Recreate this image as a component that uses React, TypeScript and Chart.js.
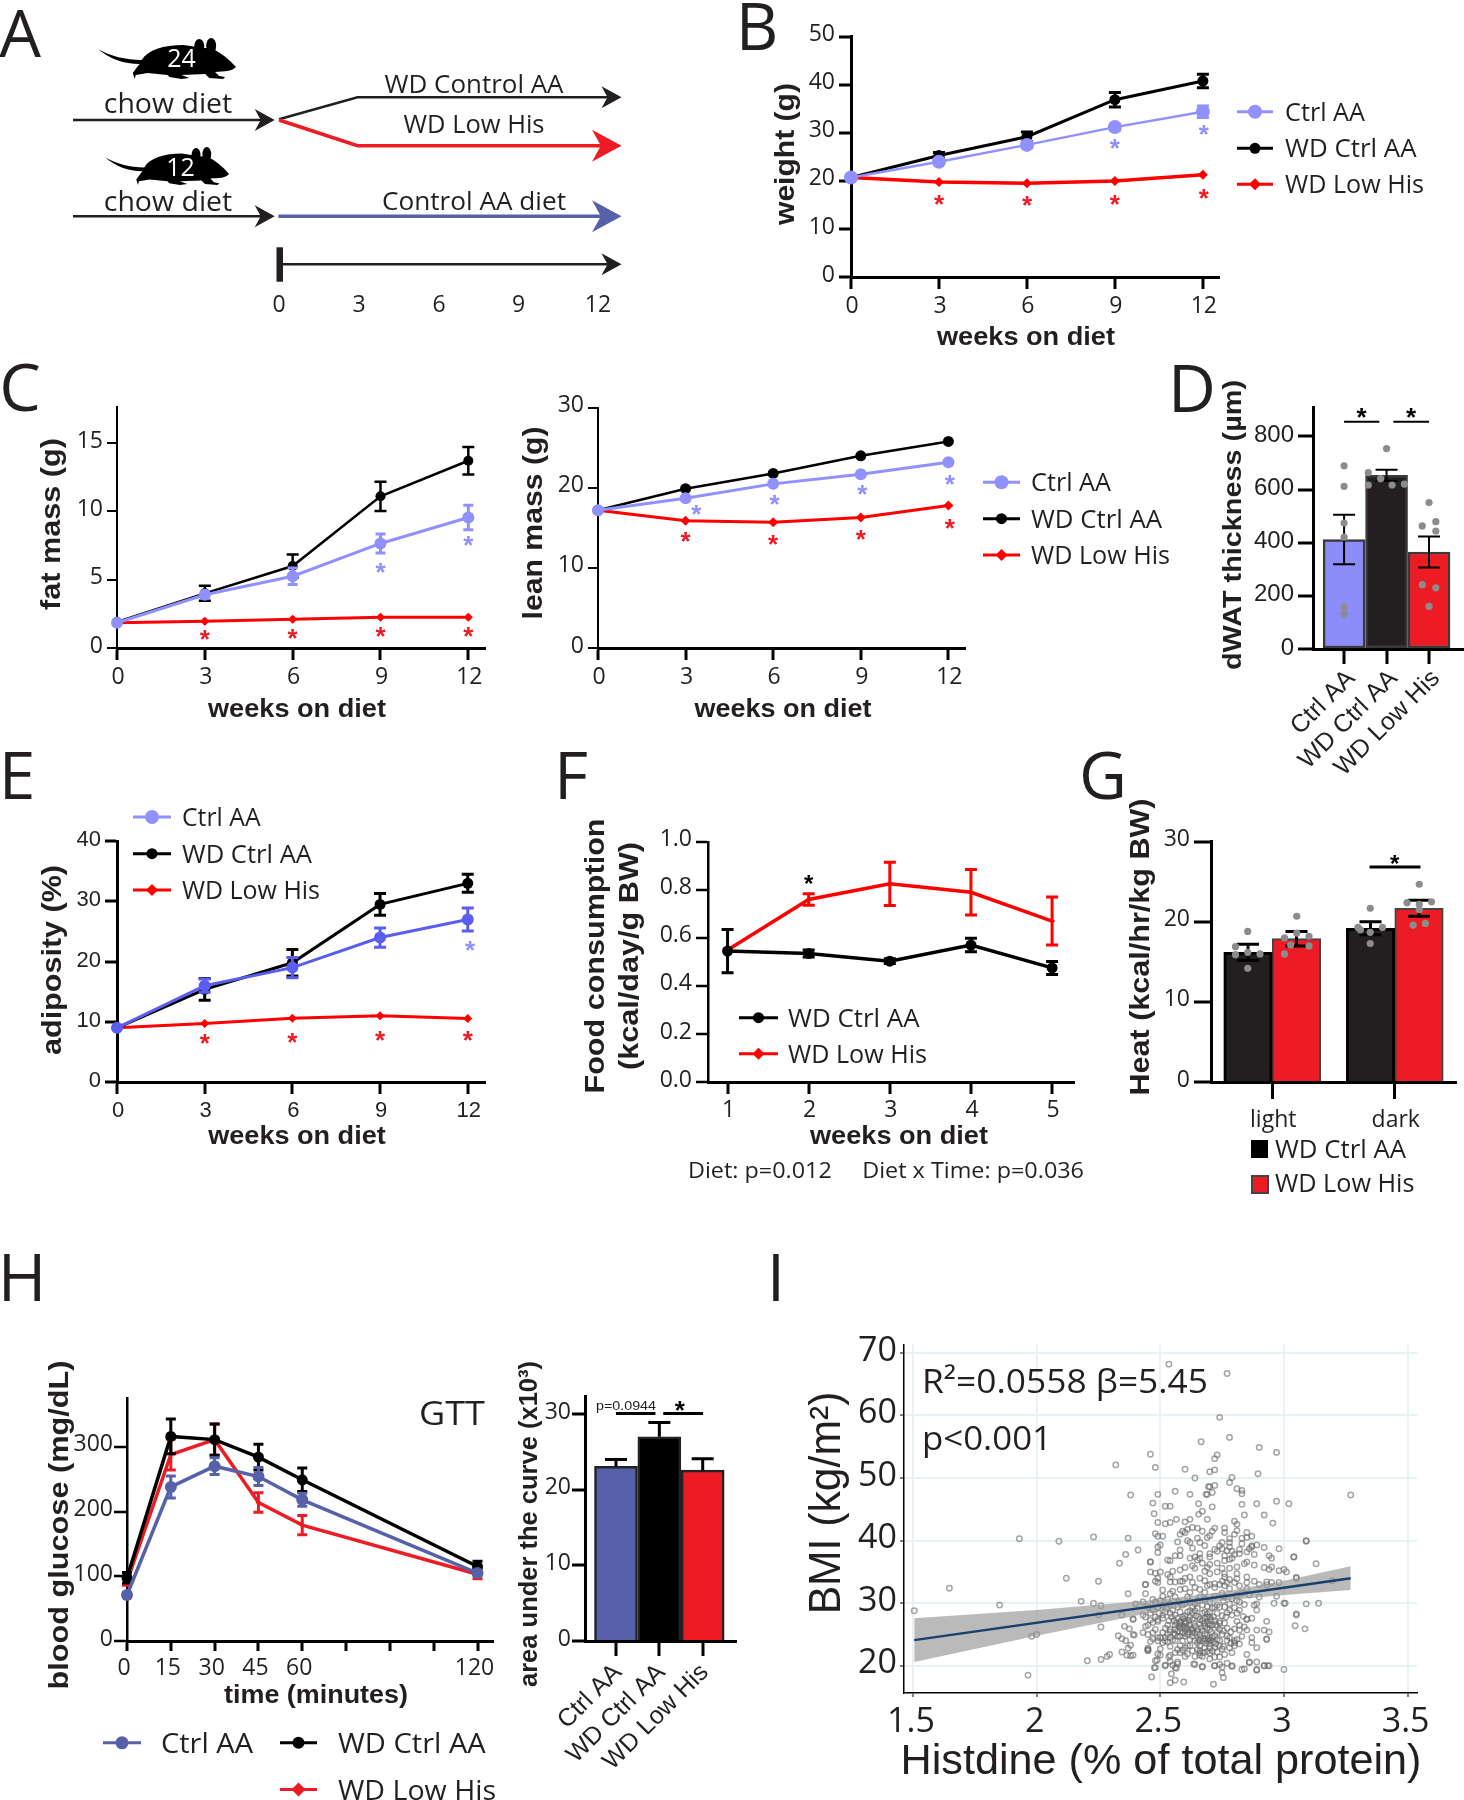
import React, { useEffect, useRef } from "react";
import { Chart, registerables } from "chart.js";

Chart.register(...registerables);

const INK = "#231f20";
const RED = "#ff0000";
const BARRED = "#ed1c24";
const LILAC = "#9090ff";
const BLUE = "#5a5ef0";
const NAVY = "#5661a9";
const SANS = "Open Sans";
const ARIAL = "Liberation Sans";

const weeks = [0, 3, 6, 9, 12];
const weightCtrl = [20.7, 24, 27.5, 31.2, 34.4];
const weightWd = [20.7, 25.3, 29.2, 36.9, 40.8];
const weightLow = [20.7, 19.8, 19.5, 20, 21.3];
const weightCtrlErr = [0, 0.4, 0.6, 0.6, 1.2];
const weightWdErr = [0, 0.6, 1, 1.5, 1.4];
const weightLowErr = [0, 0.2, 0.2, 0.2, 0.2];

const fatCtrl = [1.85, 3.9, 5.25, 7.65, 9.55];
const fatWd = [1.9, 4, 6, 11.1, 13.7];
const fatLow = [1.85, 1.95, 2.1, 2.25, 2.25];
const fatCtrlErr = [0, 0.2, 0.6, 0.7, 0.9];
const fatWdErr = [0, 0.55, 0.85, 1.07, 1];
const fatLowErr = [0, 0.1, 0.1, 0.1, 0.1];

const leanCtrl = [17.2, 18.7, 20.5, 21.7, 23.2];
const leanWd = [17.2, 19.9, 21.8, 24, 25.8];
const leanLow = [17.2, 15.9, 15.7, 16.3, 17.8];

const dwatLabels = ["Ctrl AA", "WD Ctrl AA", "WD Low His"];
const dwatMeans = [412, 653, 365];
const dwatErr = [93, 21, 58];
const dwatDots = [
  [0, 689], [0, 612], [0, 474], [0, 421], [0, 159], [0, 131],
  [1, 754], [0.57, 664], [0.86, 641], [0.57, 617], [1.13, 617], [1.42, 620],
  [2, 551], [1.84, 463], [2.16, 479], [2.16, 444], [1.84, 242], [2.16, 230], [2, 160],
];

const adipCtrl = [9, 16, 19, 24, 27];
const adipWd = [9, 15.4, 19.8, 29.5, 33];
const adipLow = [9, 9.7, 10.6, 11, 10.55];
const adipCtrlErr = [0, 1.1, 1.7, 1.6, 1.9];
const adipWdErr = [0, 1.8, 2.2, 1.8, 1.5];

const foodWeeks = [1, 2, 3, 4, 5];
const foodWd = [0.545, 0.535, 0.503, 0.57, 0.475];
const foodLow = [0.55, 0.76, 0.825, 0.79, 0.67];
const foodWdErr = [0.09, 0.015, 0.01, 0.028, 0.027];
const foodLowErr = [0, 0.024, 0.09, 0.095, 0.1];

const heatPhases = ["light", "dark"];
const heatWd = [16.2, 19.2];
const heatLow = [17.9, 21.7];
const heatWdErr = [1, 0.8];
const heatLowErr = [0.9, 1];
const heatDots = [
  [-0.2, 18.8], [-0.3, 16.9], [-0.1, 16], [-0.3, 15.9], [-0.2, 16.2], [-0.2, 14.2],
  [0.2, 20.7], [0.1, 18], [0.3, 18.2], [0.2, 18.6], [0.1, 16], [0.3, 17], [0.15, 17.1],
  [0.8, 21.7], [0.7, 19.3], [0.9, 19.3], [0.8, 18.7], [0.8, 17.3], [0.72, 19],
  [1.2, 24.7], [1.1, 22.4], [1.3, 22.5], [1.2, 21.5], [1.15, 19.6], [1.25, 19.8], [1.2, 22.2],
];

const gttMinutes = [0, 15, 30, 45, 60, 120];
const gttLabelled = [0, 15, 30, 45, 60, 120];
const gttCtrl = [71, 238, 270, 254, 218, 105];
const gttWd = [97.7, 316, 311, 284, 249, 115];
const gttLow = [92, 288, 311, 214, 179, 103];
const gttCtrlErr = [4, 17, 13, 14, 10, 4];
const gttWdErr = [8, 27, 24, 20, 18, 8];
const gttLowErr = [6, 24, 24, 15, 15, 7];

const aucLabels = ["Ctrl AA", "WD Ctrl AA", "WD Low His"];
const aucMeans = [23.1, 27, 22.6];
const aucErrUp = [0.9, 1.9, 1.5];

const fitX = [1.505, 3.27];
const fitY = [24.1, 34];
const bandX = [1.505, 2, 2.5, 2.75, 3, 3.27];
const bandUpper = [27.6, 28.9, 30.6, 31.8, 33.6, 35.9];
const bandLower = [20.6, 24.8, 28.8, 30.4, 31.3, 32.1];
const bmiPoints = [
[2.54,42.9],[2.52,42.7],[2.49,42.9],[2.6,43],[2.81,42.6],
[2.63,42.1],[2.61,41.8],[2.59,41.5],[2.58,41],[2.6,41.3],[2.65,42],[2.67,41.5],[2.72,42],[2.71,41.5],[2.76,42],[2.76,41.3],[2.81,41.6],[2.8,41],[2.85,41.3],[2.87,40.7],[2.85,40.5],[2.83,40.4],
[2.48,41.1],[2.49,40.7],[2.51,40.7],[2.61,40],[2.62,39.7],[2.65,40.4],[2.66,39.7],[2.69,40.5],[2.7,40.8],[2.57,39.8],[2.78,40.3],[2.78,39.7],[2.75,39.7],[2.74,39.2],[2.72,38.6],[2.75,38.7],[2.78,39],[2.87,39.2],[2.89,39.3],[2.87,39],[2.86,38.7],[2.92,38.9],[2.98,38.7],[3.09,39.9],
[2.41,38.5],[2.49,39],[2.5,39.3],[2.49,38.1],[2.58,38.5],[2.56,37.6],[2.58,37.6],[2.66,37.9],[2.64,37.4],[2.7,37.9],[2.73,38.3],[2.76,37.6],[2.79,38.3],[2.82,38.6],[2.82,37.9],[2.8,37.8],[2.88,37.8],[2.85,38.2],[2.94,37.6],[2.95,37.2],[3.04,37.4],
[2.46,36.6],[2.53,36.9],[2.54,36.8],[2.62,37.2],[2.65,36.9],[2.67,36.4],[2.66,37.2],[2.7,36.2],[2.73,36.4],[2.76,36.8],[2.79,37.2],[2.85,36.6],[2.84,36.3],[2.88,36.1],[2.81,35.8],[2.78,35.6],[2.92,35.7],[2.95,35.8],[2.94,35.4],[2.98,35.2],[3,35.4],[3.01,35],[3.13,36.3],
[2.46,35],[2.48,34.8],[2.5,35],[2.55,35.1],[2.53,34.6],[2.58,35.3],[2.6,35.7],[2.64,35.6],[2.68,35.1],[2.7,34.7],[2.73,35],[2.76,34.7],[2.76,34.2],[2.81,34.7],[2.85,34.2],[2.49,34],[2.48,33.5],[2.54,34.2],[2.62,34.2],[2.59,33.5],[2.66,34],[2.78,33.8],[2.81,33.9],[3.05,34],
[2.44,33],[2.49,33.3],[2.54,33.4],[2.56,33.4],[2.58,33.5],[2.63,33.3],[2.7,33],[2.72,33.1],[2.74,33],[2.77,33.3],[2.8,33.3],[2.85,33.3],[2.88,33.5],[2.93,33.4],[2.95,33.3],[2.98,33.3],[2.93,32.9],
[2.51,32.1],[2.55,31.9],[2.6,32.3],[2.58,32.2],[2.64,32.5],[2.66,32.2],[2.69,32.8],[2.72,32.5],[2.76,32.8],[2.78,32.3],[2.82,32.8],[2.85,32.3],[2.9,33],
[2.97,31.1],[2.89,29.9],[2.88,29.7],[2.89,28.9],[2.85,27.4],[2.85,27.5],[2.87,27.6],[2.93,27.1],[2.81,27.1],[2.82,26.5],[2.85,25.7],[2.89,25.7],[2.92,25.7],[2.94,25.4],[2.87,24.5],[2.87,23.7],[2.93,24.2],[2.93,24.3],[2.89,22.9],[2.85,21.8],[2.86,20.6],[2.89,20.6],[2.92,20],[2.94,20],[2.84,19.5],[2.89,19.4],
[2.82,30.2],[2.78,29.9],[2.74,29.4],[2.78,28.9],[2.76,29.4],[2.82,28.9],[2.81,30.4],[2.74,26.8],[2.74,27.1],[2.77,26],[2.7,28.6],[2.67,28.4],[2.69,27.8],[2.66,27.4],[2.71,26.5],[2.68,26.3],[2.7,25.8],[2.69,26],[2.67,25.6],[2.68,25.1],[2.73,25.3],[2.75,25],[2.71,24.5],[2.73,24.2],[2.69,24],[2.66,24],[2.66,23.2],[2.68,22.9],[2.7,23.5],[2.74,23.2],[2.75,22.7],[2.77,24],[2.8,23.7],[2.82,23.5],[2.78,22.9],[2.79,22.1],[2.66,21.7],[2.67,21.5],[2.64,21.5],[2.7,21.1],[2.74,21.4],[2.72,21.4],[2.77,20.4],[2.79,20],[2.74,20.2],[2.72,20],[2.67,19.9],[2.64,20.2],[2.57,20.3],[2.56,19.7],[2.52,20],[2.54,20.7],[2.48,20.8],[2.48,19.7],[2.49,21.9],[2.54,21.7],[2.56,22.1],[2.58,22.1],[2.6,22.9],[2.61,23.2],[2.58,23.2],[2.62,23.2],[2.56,24],[2.59,24],[2.62,24.2],[2.6,24.7],[2.57,24.7],[2.54,24.5],[2.52,24],[2.49,24],[2.5,22.7],[2.45,22.5],[2.45,22.6],[2.45,22.8],[2.39,25],[2.39,21.7],[2.43,25.3],[2.45,25],[2.47,25.3],[2.49,24.5],[2.51,25.3],[2.54,25.8],[2.56,25.8],[2.58,26.5],[2.6,26.3],[2.62,26.5],[2.63,27.4],[2.6,27.1],[2.58,26.8],[2.59,27.8],[2.63,28.4],[2.61,28.6],[2.58,28.6],[2.55,28.9],[2.52,28.6],[2.51,27.6],[2.49,27.1],[2.53,26.5],[2.45,26.5],[2.44,26.3],[2.48,25.8],[2.43,28.1],[2.44,27.8],[2.39,27.4],[2.46,28.4],[2.49,27.4],[2.56,28.1],[2.65,29.2],[2.64,29.9],[2.67,29.7],[2.7,30.2],[2.72,29.4],[2.6,29.9],[2.57,29.4],[2.54,29.9],[2.51,29.7],[2.48,30.2],[2.45,29.4],[2.43,30.2],[2.4,29.9],[2.51,31.1],[2.56,31],[2.61,31],[2.66,31],[2.72,31.1],[2.76,31],[2.81,31.3],[2.86,31.3],[2.9,31],[2.44,31.5],[2.47,30.6],
[2.58,26],[2.6,25.8],[2.59,25.3],[2.69,27.1],[2.68,26.8],[2.7,26.5],[2.58,27.1],[2.6,26.8],[2.7,22.9],[2.66,22.1],[2.66,22.4],[2.8,23.2],[2.45,22.4],[2.52,24.5],[2.51,23.7],[2.56,25],[2.56,26.5],[2.62,27.8],[2.64,26.3],[2.65,25.8],[2.66,25],[2.73,26.3],[2.76,26.8],[2.78,24.5],[2.8,24],[2.74,24],[2.72,22.9],[2.68,28.6],[2.7,27.8],[2.73,29.7],[2.61,25],[2.63,25.3],[2.58,24.7],[2.5,24.5],
[2.59,26.2],[2.605,26.9],[2.615,27.3],[2.595,27.5],[2.57,27.6],[2.575,26.3],[2.61,26],[2.625,25.9],[2.635,26.8],[2.6,28],[2.62,28.8],[2.64,28.8],[2.645,28],[2.655,27.8],[2.66,26.7],[2.665,26.1],[2.67,27.2],[2.68,27.6],[2.69,28.3],[2.695,26.7],[2.705,27.4],[2.715,27.8],[2.72,27.2],[2.725,26.6],[2.705,25.4],[2.69,24.9],[2.68,24.3],[2.695,24.4],[2.705,24.1],[2.715,23.8],[2.72,24.8],[2.7,24],[2.685,23.6],[2.675,24],[2.665,24.5],[2.655,24.2],[2.65,23.7],[2.64,24],[2.63,24.7],[2.64,25.2],[2.65,25.4],[2.63,25.7],[2.615,25.4],[2.6,25.2],[2.57,25.5],[2.555,25.2],[2.54,25.4],[2.53,25],[2.52,26],[2.535,27.2],[2.545,27.8],[2.555,27.2],[2.565,26.9],[2.54,28.4],[2.525,29.1],[2.51,28.1],[2.495,28.4],[2.48,27.8],[2.47,26.9],[2.46,27.3],[2.47,28.9],[2.49,29.3],[2.5,30.4],[2.53,30.6],[2.575,30.2],[2.59,29.7],[2.62,30.2],[2.63,29.4],[2.65,30.4],[2.68,30.6],[2.69,29.5],[2.71,29.2],[2.73,28.4],[2.75,28],[2.765,27.8],[2.77,28.5],[2.79,28.1],[2.8,29.3],[2.81,28.4],[2.755,30.4],[2.79,30.7],[2.83,31.6],[2.75,31.6],[2.68,31.7],[2.62,31.7],[2.54,31.5],[2.835,27.9],[2.8,25.9],[2.785,25.4],[2.77,24.8],[2.755,25.6],[2.74,25.8],[2.725,23.5],[2.71,22.4],[2.7,22],[2.69,22.3],[2.675,22.1],[2.65,22.6],[2.63,22.4],[2.61,21.9],[2.6,21.5],[2.59,22.5],[2.57,22.6],[2.54,23.1],[2.53,23.8],[2.55,24.1],[2.47,24.3],[2.46,23.9],[2.73,22.2],[2.76,21.8],[2.755,23.1],[2.785,23.6],[2.81,24.2],[2.83,24.7],[2.82,25.7],[2.84,26.2],[2.84,29.8],[2.75,33.5],[2.68,33.6],[2.6,34],[2.69,35.7],[2.75,35.6],[2.63,36],[2.7,37.4],[2.78,37],[2.77,38.4],[2.83,39.5],[2.63,38.8],[2.68,39.2],
[2.476,19.7],[2.52,20.1],[2.55,20.1],[2.565,19.6],[2.635,20.3],[2.67,19.8],[2.72,20],[2.75,19.8],[2.79,19.9],[2.83,19.4],[2.86,20.5],[2.89,19.3],[2.92,20],[2.935,20],[2.545,18.7],[2.75,18.9],[2.755,18.1],[2.54,17.3],[2.56,17.7],[2.595,17.4],[2.715,17.05],[2.487,20.9],[2.5,21.7],[2.535,21.4],[2.57,20.6],
[2.74,59.7],[2.78,56.5],[2.665,55.8],[2.9,54.9],[2.97,54.1],[2.46,53.8],[2.73,53.7],[2.72,53.1],[2.32,52.1],[2.48,51.7],[2.6,51.4],[2.72,51.3],[2.7,51],[2.895,50.7],[2.64,50],[2.79,50.1],[2.78,49.3],[2.695,48.6],[2.7,48.6],[2.72,48.8],[2.81,48.3],[2.83,48],[2.83,47.5],[2.685,47.4],[2.69,47.4],[2.71,47.7],[2.56,47.9],[2.49,47.4],[2.62,47.4],[2.38,47.3],[3.27,47.3],[2.97,46.3],[2.47,46],[2.655,45.9],[2.83,45.8],[2.89,45.9],[3.02,45.9],[2.52,45.5],[2.54,45.5],[2.71,45.4],[2.475,44.3],[2.67,44.7],[2.655,44.2],[2.84,44.1],[2.92,44.1],[2.565,43.4],[2.62,43.4],[2.69,43.4],[2.8,43.1],[2.955,42.8],
[1.93,40.3],[2.09,39.9],[2.23,40.6],[2.37,40.4],[3.09,40],[2.36,37.8],[3.04,37.4],[2.335,36.4],[2.46,36.6],[2.12,34],[2.25,33.5],[2.44,33],[2.37,31.5],[3.05,34.1],[3.195,33.6],[2.18,30.3],[2.23,30],[2.26,29.6],[1.85,29.7],[3.09,29.9],[3.14,30],[3,30],[3.005,30],[2.96,30],[2.25,28.1],[2.345,28.1],[2.39,27.5],[3.05,28.3],[3.05,28.1],[2.26,26.2],[2.355,26.3],[2.375,25.9],[2.33,24.8],[2.345,24.3],[2.395,24.9],[2.36,24],[2.38,23.3],[2.37,22.8],[2.345,22.2],[2.365,21.7],[2.38,21.6],[3.045,26.4],[3.085,25.9],[1.98,24.7],[2,25],[2.205,20.8],[2.26,21],[2.285,21.5],[2.295,21.8],[1.965,18.5],[3,19.4],[2.465,18.2],[1.505,28.8],[1.647,32.4],[2.535,68.2],[2.77,66.7],
];

const MARGIN = { L: 80, R: 20, T: 14, B: 130 };

const scale = (axis: string, o: any) => ({
  type: "linear",
  min: o.min,
  max: o.max,
  offset: false,
  afterFit: (s: any) => {
    if (axis === "x") s.height = MARGIN.B;
    else s.width = MARGIN.L;
  },
  border: { color: o.color ?? "#000", width: o.bw ?? 3 },
  grid: {
    drawOnChartArea: !!o.grid,
    color: o.grid,
    lineWidth: 2,
    offset: false,
    tickLength: o.tick ?? 12,
    tickWidth: o.tw ?? o.bw ?? 3,
    tickColor: o.color ?? "#000",
  },
  ticks: {
    stepSize: o.step,
    includeBounds: false,
    autoSkip: false,
    maxRotation: o.rot ?? 0,
    minRotation: o.rot ?? 0,
    color: INK,
    padding: o.pad ?? 4,
    labelOffset: o.lo ?? (axis === "y" ? (o.fam === ARIAL ? -1 : -2) : 1),
    font: { family: o.fam ?? SANS, size: o.size ?? 23 },
    callback: o.cb ?? ((v: number) => String(v)),
  },
});

const series = (xs: number[], ys: number[], color: string, o: any = {}) => ({
  type: "line",
  data: xs.map((x, i) => ({ x, y: ys[i] })),
  borderColor: color,
  backgroundColor: color,
  pointBackgroundColor: color,
  borderWidth: o.w ?? 3,
  pointRadius: o.r ?? 5,
  pointStyle: o.shape ?? "circle",
  pointBorderWidth: 0,
  tension: 0,
  clip: false,
  err: o.err,
  errCap: o.cap ?? 7,
  errWidth: o.ew ?? 3,
  errColor: o.errColor ?? color,
});

const dotSet = (pairs: number[][], xAxisID = "x") => ({
  type: "scatter",
  xAxisID,
  data: pairs.map(([x, y]) => ({ x, y })),
  pointRadius: 3.6,
  pointBackgroundColor: "#8c8c8c",
  pointBorderWidth: 0,
  showLine: false,
  clip: false,
});

const drawErr = (ch: any, index: number) => {
  const d = ch.data.datasets[index];
  if (!d.err) return;
  const meta = ch.getDatasetMeta(index);
  const y = ch.scales.y;
  const c = ch.ctx;
  c.save();
  c.strokeStyle = d.errColor ?? "#000";
  c.lineWidth = d.errWidth ?? 2;
  d.err.forEach((e: number, i: number) => {
    if (!e) return;
    const px = meta.data[i].x;
    const v = d.data[i].y ?? d.data[i];
    const hi = y.getPixelForValue(v + e);
    const lo = y.getPixelForValue(d.upOnly ? v : v - e);
    c.beginPath();
    c.moveTo(px, hi);
    c.lineTo(px, lo);
    c.moveTo(px - d.errCap, hi);
    c.lineTo(px + d.errCap, hi);
    if (!d.upOnly) {
      c.moveTo(px - d.errCap, lo);
      c.lineTo(px + d.errCap, lo);
    }
    c.stroke();
  });
  c.restore();
};

const star = (c: any, px: number, py: number, color: string, size = 26) => {
  c.font = `bold ${size}px "${ARIAL}"`;
  c.fillStyle = color;
  c.textAlign = "center";
  c.textBaseline = "alphabetic";
  c.fillText("*", px, py + size * 0.58);
};

const marks = (o: any = {}) => ({
  id: "marks",
  beforeDatasetDraw(ch: any, a: any) {
    if (!ch.data.datasets[a.index].barErr) drawErr(ch, a.index);
  },
  afterDatasetDraw(ch: any, a: any) {
    if (ch.data.datasets[a.index].barErr) drawErr(ch, a.index);
  },
  afterDatasetsDraw(ch: any) {
    const c = ch.ctx;
    const xs = ch.scales[o.markAxis ?? "x"];
    const ys = ch.scales.y;
    c.save();
    (o.stars ?? []).forEach(([x, y, color, size]: any) =>
      star(c, xs.getPixelForValue(x), ys.getPixelForValue(y), color, size)
    );
    (o.brackets ?? []).forEach(([x0, x1, y]: number[]) => {
      c.strokeStyle = "#000";
      c.lineWidth = o.bracketW ?? 2;
      c.beginPath();
      c.moveTo(xs.getPixelForValue(x0), ys.getPixelForValue(y));
      c.lineTo(xs.getPixelForValue(x1), ys.getPixelForValue(y));
      c.stroke();
    });
    c.restore();
  },
});

function Panel({ plot, type = "line", data, scales, mk }: any) {
  const ref = useRef<HTMLCanvasElement>(null);
  useEffect(() => {
    const chart = new Chart(ref.current as any, {
      type,
      data,
      options: {
        responsive: false,
        animation: false,
        events: [],
        layout: { padding: { top: MARGIN.T, right: MARGIN.R, left: 0, bottom: 0 } },
        plugins: { legend: { display: false }, tooltip: { enabled: false }, title: { display: false } },
        scales,
      } as any,
      plugins: [marks(mk)],
    } as any);
    return () => chart.destroy();
  }, []);
  const [l, r, t, b] = plot;
  return (
    <canvas
      ref={ref}
      width={r - l + MARGIN.L + MARGIN.R}
      height={b - t + MARGIN.T + MARGIN.B}
      style={{ position: "absolute", left: l - MARGIN.L, top: t - MARGIN.T, width: r - l + MARGIN.L + MARGIN.R, height: b - t + MARGIN.T + MARGIN.B }}
    />
  );
}

const meter = document.createElement("canvas").getContext("2d") as CanvasRenderingContext2D;

function T({ x, y, s, t, f = SANS, b = false, len, rot = 0, c = INK, left = false }: any) {
  meter.font = `${b ? "bold " : ""}${s}px "${f}"`;
  const k = len ? len / meter.measureText(t).width : 1;
  return (
    <div
      style={{
        position: "absolute",
        left: x,
        top: f === SANS ? y - 1 : y,
        fontFamily: `"${f}"`,
        fontSize: s,
        fontWeight: b ? 700 : 400,
        lineHeight: 1,
        whiteSpace: "pre",
        color: c,
        transformOrigin: left ? "0 50%" : "50% 50%",
        transform: `translate(${left ? "0" : "-50%"},-50%) rotate(${rot}deg) scaleX(${k})`,
      }}
    >
      {t}
    </div>
  );
}

const Arrow = ({ pts, tip, base, y, h, color, w = 2.5 }: any) => (
  <g>
    <polyline points={pts} fill="none" stroke={color} strokeWidth={w} />
    <path d={`M${tip} ${y}L${base} ${y - h}L${base + (tip - base) * 0.3} ${y}L${base} ${y + h}Z`} fill={color} />
  </g>
);

const Mouse = ({ x, y, w, h }: any) => (
  <g transform={`translate(${x} ${y}) scale(${w / 140} ${h / 40})`} fill="#000">
    <path d="M0 10C12 17 28 21 44 21C50 11 66 6 86 6L100 8L116 10C124 14 132 20 139 28C134 33 128 32 118 33L122 37L128 38L126 40L112 39L108 35L84 36L92 39L84 40L72 38L70 36L50 34L38 36L37 40L35 34C38 30 40 27 42 25C26 25 12 20 0 10Z" />
    <ellipse cx="102" cy="7" rx="5" ry="7" />
    <ellipse cx="114" cy="7" rx="5" ry="8" />
  </g>
);

const Swatch = ({ x0, x1, y, color, shape, r = 5, w = 3 }: any) => {
  const cx = (x0 + x1) / 2;
  return (
    <g>
      <line x1={x0} x2={x1} y1={y} y2={y} stroke={color} strokeWidth={w} />
      {shape === "d" ? (
        <path d={`M${cx - r} ${y}L${cx} ${y - r}L${cx + r} ${y}L${cx} ${y + r}Z`} fill={color} />
      ) : (
        <circle cx={cx} cy={y} r={r} fill={color} />
      )}
    </g>
  );
};

const WEEK_TITLE = "weeks on diet";

export default function App() {
  const wk = { step: 3, tick: 12, pad: 4 };
  return (
    <div style={{ position: "absolute", left: 0, top: 0, width: 1464, height: 1800, background: "#fff", overflow: "hidden" }}>
      {/* B */}
      <Panel
        plot={[851, 1219, 33, 277]}
        data={{
          datasets: [
            series(weeks, weightCtrl, LILAC, { w: 2.5, r: 7, err: weightCtrlErr, cap: 6 }),
            series(weeks, weightWd, "#000", { w: 3, r: 5.5, err: weightWdErr, cap: 6 }),
            series(weeks, weightLow, RED, { w: 3.5, r: 5, shape: "rectRot", err: weightLowErr, cap: 2 }),
          ],
        }}
        scales={{ x: scale("x", { min: 0, max: 12.55, ...wk }), y: scale("y", { min: 0, max: 50, step: 10 }) }}
        mk={{
          stars: [
            [3, 16.4, BARRED], [6, 16.3, BARRED], [9, 16.4, BARRED], [12.03, 17.8, BARRED],
            [9, 28.2, LILAC], [12.03, 31, LILAC],
          ],
        }}
      />
      {/* C left */}
      <Panel
        plot={[117, 485, 403, 648]}
        data={{
          datasets: [
            series(weeks, fatCtrl, LILAC, { w: 3, r: 6, err: fatCtrlErr, cap: 5 }),
            series(weeks, fatWd, "#000", { w: 2.5, r: 5, err: fatWdErr, cap: 6, ew: 2.5 }),
            series(weeks, fatLow, RED, { w: 3, r: 4.5, shape: "rectRot", err: fatLowErr, cap: 2 }),
          ],
        }}
        scales={{
          x: scale("x", { min: 0, max: 12.57, ...wk }),
          y: scale("y", { min: 0, max: 17.65, step: 5, bw: 2, tick: 10 }),
        }}
        mk={{
          stars: [
            [3, 1.1, BARRED], [6, 1.15, BARRED], [9, 1.3, BARRED], [12, 1.3, BARRED],
            [9, 6, LILAC], [12, 7.95, LILAC],
          ],
        }}
      />
      {/* C right */}
      <Panel
        plot={[598, 965, 404, 648]}
        data={{
          datasets: [
            series(weeks, leanCtrl, LILAC, { w: 3, r: 6 }),
            series(weeks, leanWd, "#000", { w: 2.5, r: 5.5 }),
            series(weeks, leanLow, RED, { w: 3, r: 5, shape: "rectRot" }),
          ],
        }}
        scales={{
          x: scale("x", { min: 0, max: 12.57, ...wk }),
          y: scale("y", { min: 0, max: 30, step: 10, bw: 2, tick: 10 }),
        }}
        mk={{
          stars: [
            [3, 14.15, BARRED], [6, 13.7, BARRED], [9, 14.4, BARRED], [12.05, 15.8, BARRED],
            [3.37, 17.55, LILAC], [6.05, 18.7, LILAC], [9.05, 19.95, LILAC], [12.05, 21.3, LILAC],
          ],
        }}
      />
      {/* D */}
      <Panel
        plot={[1313, 1463, 403, 649]}
        type="bar"
        data={{
          datasets: [
            dotSet(dwatDots),
            {
              type: "bar",
              data: dwatMeans.map((y, x) => ({ x, y })),
              backgroundColor: ["#8c8cfa", INK, BARRED],
              borderColor: "#3a3a3a",
              borderWidth: 2.5,
              barThickness: 42,
              borderSkipped: false,
              clip: false,
              barErr: true,
              err: dwatErr,
              errCap: 11,
              errWidth: 2,
              errColor: "#000",
            },
          ],
        }}
        scales={{
          x: scale("x", { min: -0.732, max: 2.8, step: 1, tick: 15, rot: 45, fam: ARIAL, size: 25, pad: 0, lo: 7, cb: (v: number) => dwatLabels[v] }),
          y: scale("y", { min: 0, max: 909, step: 200, tick: 15, fam: ARIAL, size: 24, pad: 4 }),
        }}
        mk={{
          stars: [[0.41, 896, "#000"], [1.575, 896, "#000"]],
          brackets: [[0, 0.83, 855], [1.16, 2, 855]],
        }}
      />
      {/* E */}
      <Panel
        plot={[117, 485, 838, 1082]}
        data={{
          datasets: [
            series(weeks, adipCtrl, BLUE, { w: 3, r: 6, err: adipCtrlErr, cap: 6 }),
            series(weeks, adipWd, "#000", { w: 3, r: 5.5, err: adipWdErr, cap: 6 }),
            series(weeks, adipLow, RED, { w: 3, r: 4.5, shape: "rectRot" }),
          ],
        }}
        scales={{
          x: scale("x", { min: 0, max: 12.59, step: 3, tick: 12, fam: ARIAL, size: 22, pad: 4 }),
          y: scale("y", { min: 0, max: 40, step: 10, tick: 12, fam: ARIAL, size: 22, pad: 4 }),
        }}
        mk={{
          stars: [
            [3, 7.55, BARRED], [6, 7.65, BARRED], [9, 8, BARRED], [12, 8, BARRED],
            [12.08, 23, LILAC],
          ],
        }}
      />
      {/* F */}
      <Panel
        plot={[708, 1074, 838, 1082]}
        data={{
          datasets: [
            series(foodWeeks, foodWd, "#000", { w: 3.5, r: 5.5, err: foodWdErr, cap: 6 }),
            series(foodWeeks, foodLow, RED, { w: 3.5, r: 3, shape: "rectRot", err: foodLowErr, cap: 6, ew: 3 }),
          ],
        }}
        scales={{
          x: scale("x", { min: 0.759, max: 5.27, step: 1, tick: 12, bw: 3, pad: 3 }),
          y: scale("y", { min: 0, max: 1, step: 0.2, tick: 12, bw: 2.5, cb: (v: number) => v.toFixed(1) }),
        }}
        mk={{ stars: [[2, 0.847, "#000", 24]] }}
      />
      {/* G */}
      <Panel
        plot={[1211, 1456, 838, 1082]}
        type="bar"
        data={{
          labels: heatPhases,
          datasets: [
            dotSet(heatDots, "x2"),
            {
              type: "bar",
              data: heatWd,
              backgroundColor: INK,
              borderColor: "#000",
              borderWidth: 3,
              barThickness: 48.5,
              clip: false,
              barErr: true,
              err: heatWdErr,
              errCap: 11,
              errWidth: 3,
              errColor: "#000",
            },
            {
              type: "bar",
              data: heatLow,
              backgroundColor: BARRED,
              borderColor: "#444",
              borderWidth: 2,
              barThickness: 48.5,
              clip: false,
              barErr: true,
              err: heatLowErr,
              errCap: 11,
              errWidth: 3,
              errColor: "#000",
            },
          ],
        }}
        scales={{
          x: {
            type: "category",
            offset: true,
            afterFit: (s: any) => { s.height = MARGIN.B; },
            border: { color: "#000", width: 3 },
            grid: { drawOnChartArea: false, offset: false, tickLength: 17, tickWidth: 3, tickColor: "#000" },
            ticks: { color: INK, padding: 8, labelOffset: 1, font: { family: SANS, size: 23 }, maxRotation: 0, minRotation: 0 },
          },
          x2: { type: "linear", display: false, min: -0.5, max: 1.5, offset: false },
          y: scale("y", { min: 0, max: 30, step: 10, tick: 17, bw: 3 }),
        }}
        mk={{ markAxis: "x2", stars: [[1.0, 28, "#000", 24]], brackets: [[0.794, 1.21, 26.85]], bracketW: 3 }}
      />
      {/* H curve */}
      <Panel
        plot={[127, 493, 1397, 1641]}
        data={{
          datasets: [
            series(gttMinutes, gttCtrl, NAVY, { w: 3.5, r: 6, err: gttCtrlErr, cap: 5 }),
            series(gttMinutes, gttWd, "#000", { w: 3.5, r: 5.5, err: gttWdErr, cap: 5 }),
            series(gttMinutes, gttLow, BARRED, { w: 3.5, r: 3, shape: "rectRot", err: gttLowErr, cap: 5 }),
          ],
        }}
        scales={{
          x: scale("x", { min: 0, max: 125.3, step: 15, tick: 10, pad: 4, lo: -3, cb: (v: number) => (gttLabelled.includes(v) ? String(v) : "") }),
          y: scale("y", { min: 0, max: 375.6, step: 100, tick: 13, bw: 2.5, pad: 1 }),
        }}
      />
      {/* H AUC */}
      <Panel
        plot={[585, 736, 1396, 1641]}
        type="bar"
        data={{
          datasets: [
            {
              type: "bar",
              data: aucMeans.map((y, x) => ({ x, y })),
              backgroundColor: [NAVY, "#000", BARRED],
              borderColor: "#222",
              borderWidth: 2.5,
              barThickness: 43,
              clip: false,
              barErr: true,
              upOnly: true,
              err: aucErrUp,
              errCap: 11,
              errWidth: 3,
              errColor: "#000",
            },
          ],
        }}
        scales={{
          x: scale("x", { min: -0.715, max: 2.768, step: 1, tick: 15, rot: 45, fam: ARIAL, size: 25, pad: 2, lo: 2, cb: (v: number) => aucLabels[v] }),
          y: scale("y", { min: 0, max: 32.3, step: 10, tick: 13, pad: 1 }),
        }}
        mk={{ stars: [[1.47, 31.3, "#000", 26]], brackets: [[0, 0.91, 30.1], [1.09, 2.01, 30.1]], bracketW: 3 }}
      />
      {/* I */}
      <Panel
        plot={[904, 1417, 1335, 1693]}
        type="scatter"
        data={{
          datasets: [
            { type: "line", data: fitX.map((x, i) => ({ x, y: fitY[i] })), borderColor: "#17406d", borderWidth: 2.5, pointRadius: 0, tension: 0 },
            { type: "line", data: bandX.map((x, i) => ({ x, y: bandUpper[i] })), borderWidth: 0, pointRadius: 0, tension: 0, fill: "+1", backgroundColor: "rgba(150,150,150,0.66)" },
            { type: "line", data: bandX.map((x, i) => ({ x, y: bandLower[i] })), borderWidth: 0, pointRadius: 0, tension: 0 },
            { type: "scatter", data: bmiPoints.map(([x, y]) => ({ x, y })), pointRadius: 2.7, pointBackgroundColor: "rgba(0,0,0,0)", pointBorderColor: "rgba(105,105,105,0.6)", pointBorderWidth: 1.5, showLine: false },
          ],
        }}
        scales={{
          x: scale("x", { min: 1.4636, max: 3.538, step: 0.5, tick: 4, bw: 1.5, tw: 1, grid: "#e9f1f4", size: 34, pad: 5, lo: -2 }),
          y: scale("y", { min: 15.65, max: 71.36, step: 10, tick: 4, bw: 1.5, tw: 1, grid: "#e9f1f4", size: 34, pad: 3 }),
        }}
      />

      {/* schematic and legend keys */}
      <svg width={1464} height={1800} style={{ position: "absolute", left: 0, top: 0, pointerEvents: "none" }}>
        <Arrow pts="73,120 262,120" tip={274.7} base={254.7} y={120} h={11} color={INK} />
        <Arrow pts="73,216.3 262,216.3" tip={274.7} base={254.7} y={216.3} h={11} color={INK} />
        <Arrow pts="279,119.3 357.5,97.3 610,97.3" tip={621.5} base={601.5} y={97.3} h={11} color={INK} />
        <Arrow pts="279,120 357.5,145.7 605,145.7" tip={621.5} base={592} y={145.7} h={16} color={BARRED} w={3.5} />
        <Arrow pts="278.4,216.3 605,216.3" tip={621.5} base={592} y={216.3} h={16} color={NAVY} w={3.5} />
        <Arrow pts="280,264.3 610,264.3" tip={621.5} base={601.5} y={264.3} h={11} color={INK} />
        <rect x={276.5} y={247.3} width={6.5} height={34.4} fill={INK} />
        <Mouse x={98} y={39} w={139} h={40} />
        <Mouse x={105} y={148} w={125} h={37} />

        <Swatch x0={1237} x1={1273} y={111.7} color={LILAC} r={7} />
        <Swatch x0={1237} x1={1273} y={148.3} color="#000" r={5.5} />
        <Swatch x0={1237} x1={1273} y={184.3} color={RED} shape="d" r={6} />

        <Swatch x0={983} x1={1020} y={482.3} color={LILAC} r={7} />
        <Swatch x0={983} x1={1020} y={518.7} color="#000" r={5.5} />
        <Swatch x0={983} x1={1020} y={555} color={RED} shape="d" r={6} />

        <Swatch x0={133} x1={171} y={817} color={LILAC} r={7} />
        <Swatch x0={133} x1={171} y={853.7} color="#000" r={5.5} />
        <Swatch x0={133} x1={171} y={890} color={RED} shape="d" r={6} />

        <Swatch x0={739} x1={778} y={1017.7} color="#000" r={5.5} />
        <Swatch x0={739} x1={778} y={1053.7} color={RED} shape="d" r={6} />

        <rect x={1251} y={1140} width={17} height={18} fill="#000" />
        <rect x={1252} y={1176} width={16} height={17} fill={BARRED} stroke="#444" strokeWidth={2} />

        <Swatch x0={103} x1={141} y={1742.8} color={NAVY} r={6.5} />
        <Swatch x0={280} x1={317} y={1742.8} color="#000" r={6} />
        <Swatch x0={280} x1={317} y={1789.5} color={BARRED} shape="d" r={7} />
      </svg>

      {/* panel letters */}
      <T x={20} y={32} s={66} t="A" />
      <T x={757} y={25} s={66} t="B" />
      <T x={20} y={386} s={66} t="C" />
      <T x={1192} y={387} s={66} t="D" />
      <T x={17} y={774} s={66} t="E" />
      <T x={571} y={774} s={66} t="F" />
      <T x={1103} y={774} s={66} t="G" />
      <T x={22} y={1276} s={66} t="H" />
      <T x={776} y={1276} s={66} t="I" />

      {/* A text */}
      <T x={474} y={84} s={25} len={179} t="WD Control AA" />
      <T x={474} y={124} s={25} len={141} t="WD Low His" />
      <T x={474} y={201} s={25} len={184} t="Control AA diet" />
      <T x={167.6} y={103.3} s={27} len={128.5} t="chow diet" />
      <T x={167.6} y={200.7} s={27} len={128.5} t="chow diet" />
      <T x={181.6} y={58.3} s={25} t="24" c="#fff" />
      <T x={180.6} y={166.7} s={25} t="12" c="#fff" />
      {[["0", 279], ["3", 359], ["6", 439], ["9", 518.6], ["12", 598]].map(([l, x]: any) => (
        <T key={l} x={x} y={304} s={23} t={l} />
      ))}

      {/* axis titles */}
      <T x={785} y={154} s={28} b f={ARIAL} len={142} rot={-90} t="weight (g)" />
      <T x={1026} y={336} s={25} b f={ARIAL} len={178} t={WEEK_TITLE} />
      <T x={51} y={524} s={27} b f={ARIAL} len={172} rot={-90} t="fat mass (g)" />
      <T x={297} y={707.7} s={25} b f={ARIAL} len={178} t={WEEK_TITLE} />
      <T x={532.5} y={523} s={27} b f={ARIAL} len={193} rot={-90} t="lean mass (g)" />
      <T x={782.5} y={707.7} s={25} b f={ARIAL} len={177} t={WEEK_TITLE} />
      <T x={1232} y={525} s={26} b f={ARIAL} len={290} rot={-90} t="dWAT thickness (µm)" />
      <T x={52} y={960} s={27} b f={ARIAL} len={190} rot={-90} t="adiposity (%)" />
      <T x={297} y={1135} s={25} b f={ARIAL} len={177.5} t={WEEK_TITLE} />
      <T x={594.6} y={955.7} s={27} b f={ARIAL} len={275} rot={-90} t="Food consumption" />
      <T x={629} y={956} s={27} b f={ARIAL} len={228} rot={-90} t="(kcal/day/g BW)" />
      <T x={898.6} y={1135} s={25} b f={ARIAL} len={178} t={WEEK_TITLE} />
      <T x={885.5} y={1171} s={21} len={396} t="Diet: p=0.012     Diet x Time: p=0.036" />
      <T x={1139.5} y={946.7} s={27} b f={ARIAL} len={297} rot={-90} t="Heat (kcal/hr/kg BW)" />
      <T x={59} y={1525} s={27} b f={ARIAL} len={329} rot={-90} t="blood glucose (mg/dL)" />
      <T x={316} y={1693.7} s={25} b f={ARIAL} len={184} t="time (minutes)" />
      <T x={451.6} y={1414} s={32} len={66} t="GTT" />
      <T x={527.6} y={1523.6} s={26} b f={ARIAL} len={326} rot={-90} t="area under the curve (x10³)" />
      <T x={626} y={1405} s={13} f={ARIAL} len={60} t="p=0.0944" />
      <T x={825} y={1503.2} s={44} f={ARIAL} len={222.7} rot={-90} t="BMI (kg/m²)" />
      <T x={1161} y={1759.6} s={42} f={ARIAL} len={521} t="Histdine (% of total protein)" />
      <T x={921.7} y={1380.5} s={33} left len={286} t="R²=0.0558 β=5.45" />
      <T x={921.7} y={1437.7} s={33} left len={130} t="p<0.001" />

      {/* legend labels */}
      <T x={1285} y={111.7} s={25} left len={80} t="Ctrl AA" />
      <T x={1285} y={148.3} s={25} left len={131.5} t="WD Ctrl AA" />
      <T x={1285} y={184.3} s={25} left len={139} t="WD Low His" />
      <T x={1031} y={482.3} s={25} left len={80} t="Ctrl AA" />
      <T x={1031} y={518.7} s={25} left len={131} t="WD Ctrl AA" />
      <T x={1031} y={555} s={25} left len={139} t="WD Low His" />
      <T x={182} y={817} s={25} left len={78.6} t="Ctrl AA" />
      <T x={182} y={853.7} s={25} left len={130} t="WD Ctrl AA" />
      <T x={182} y={890} s={25} left len={138} t="WD Low His" />
      <T x={788.3} y={1017.7} s={25} left len={131.5} t="WD Ctrl AA" />
      <T x={788.3} y={1053.7} s={25} left len={139} t="WD Low His" />
      <T x={1275} y={1148.7} s={25} left len={131} t="WD Ctrl AA" />
      <T x={1275} y={1182.7} s={25} left len={139.5} t="WD Low His" />
      <T x={160.5} y={1742.8} s={28} left len={92} t="Ctrl AA" />
      <T x={338.4} y={1742.8} s={28} left len={147.7} t="WD Ctrl AA" />
      <T x={338.4} y={1789.5} s={28} left len={158} t="WD Low His" />
    </div>
  );
}
